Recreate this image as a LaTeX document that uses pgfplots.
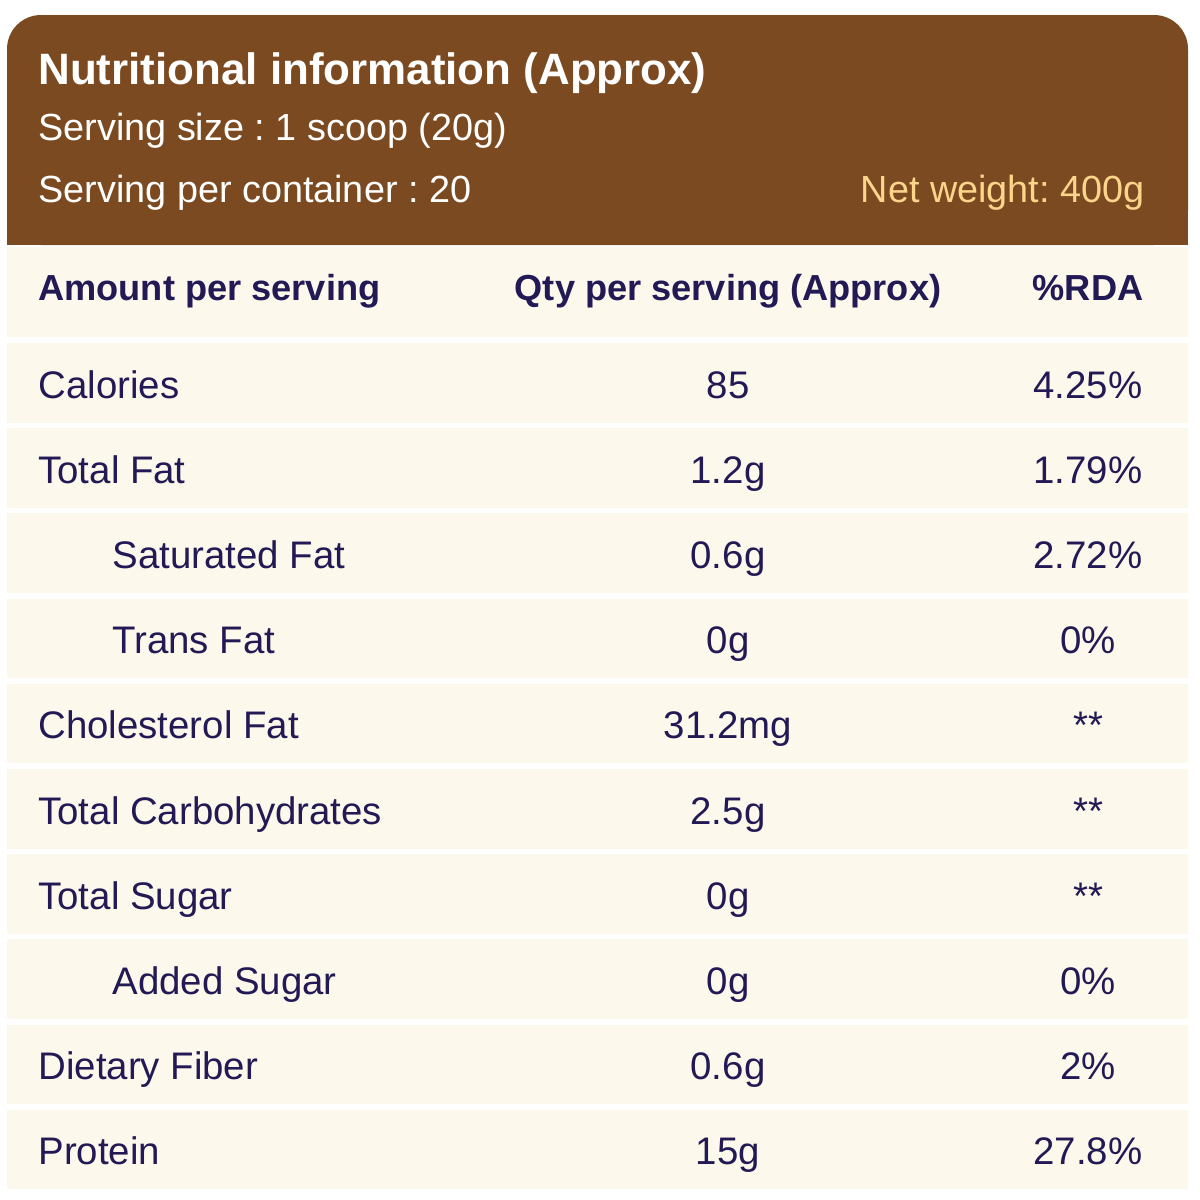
\documentclass[border=0pt]{standalone}
\usepackage{pgfplots}
\pgfplotsset{compat=1.18}
\usepackage{fontspec}
\setmainfont{Liberation Sans}
\frenchspacing
\definecolor{brownc}{HTML}{7C4A21}
\definecolor{cream}{HTML}{FCF8EC}
\definecolor{navy}{HTML}{231A55}
\definecolor{gold}{HTML}{FAD58A}
\newcommand\bodyf{\fontsize{19.2}{22}\selectfont}
\newcommand\subf{\fontsize{18.9}{22}\selectfont}
\newcommand\hdf{\fontsize{18.1}{21}\selectfont\bfseries}
\newcommand\titf{\fontsize{21.95}{26}\selectfont\bfseries}
\newcommand\bgrow[2]{\addplot[fill=cream,draw=none,no markers,forget plot] coordinates {(7,#1)(1188,#1)(1188,#2)(7,#2)} -- cycle;}
% \datarow{baseline}{label x}{label}{qty}{rda}
\newcommand\datarow[5]{%
  \node[anchor=base west,text=navy,inner sep=0pt,font=\bodyf] at (axis cs:#2,#1) {#3};
  \node[anchor=base,text=navy,inner sep=0pt,font=\bodyf] at (axis cs:728,#1) {#4};
  \node[anchor=base,text=navy,inner sep=0pt,font=\bodyf] at (axis cs:1088,#1) {#5};
}
\begin{document}
\begin{tikzpicture}
\begin{axis}[
  width=600pt, height=600pt, scale only axis,
  xmin=0, xmax=1200, ymin=0, ymax=1200, y dir=reverse,
  axis lines=none, clip=false,
]
\addplot[fill=white,draw=none,no markers,forget plot] coordinates {(0,0)(1200,0)(1200,1200)(0,1200)} -- cycle;
% header
\fill[brownc, rounded corners=17pt] (axis cs:7,15) rectangle (axis cs:1188,245);
\addplot[fill=brownc,draw=none,no markers,forget plot] coordinates {(7,100)(1188,100)(1188,245)(7,245)} -- cycle;
% rows
\bgrow{247}{337}
\bgrow{343}{422.5}
\bgrow{428.2}{507.7}
\bgrow{513.4}{592.9}
\bgrow{598.6}{678.1}
\bgrow{683.8}{763.3}
\bgrow{769}{848.5}
\bgrow{854.2}{933.7}
\bgrow{939.4}{1018.9}
\bgrow{1024.6}{1104.1}
\bgrow{1109.8}{1189.3}
% header text
\node[anchor=base west,text=white,inner sep=0pt,font=\titf] at (axis cs:38,84) {Nutritional information (Approx)};
\node[anchor=base west,text=white,inner sep=0pt,font=\subf] at (axis cs:38,140) {Serving size : 1 scoop (20g)};
\node[anchor=base west,text=white,inner sep=0pt,font=\subf] at (axis cs:38,202) {Serving per container : 20};
\node[anchor=base east,text=gold,inner sep=0pt,font=\subf] at (axis cs:1145,202) {Net weight: 400g};
\node[anchor=base west,text=navy,inner sep=0pt,font=\hdf] at (axis cs:38,300) {Amount per serving};
\node[anchor=base,text=navy,inner sep=0pt,font=\hdf] at (axis cs:728,300) {Qty per serving (Approx)};
\node[anchor=base,text=navy,inner sep=0pt,font=\hdf] at (axis cs:1088,300) {\%RDA};
\datarow{398}{38}{Calories}{85}{4.25\%}
\datarow{483.2}{38}{Total Fat}{1.2g}{1.79\%}
\datarow{568.4}{112}{Saturated Fat}{0.6g}{2.72\%}
\datarow{653.6}{112}{Trans Fat}{0g}{0\%}
\datarow{738.8}{38}{Cholesterol Fat}{31.2mg}{**}
\datarow{824}{38}{Total Carbohydrates}{2.5g}{**}
\datarow{909.2}{38}{Total Sugar}{0g}{**}
\datarow{994.4}{112}{Added Sugar}{0g}{0\%}
\datarow{1079.6}{38}{Dietary Fiber}{0.6g}{2\%}
\datarow{1164.8}{38}{Protein}{15g}{27.8\%}
\end{axis}
\end{tikzpicture}
\end{document}
